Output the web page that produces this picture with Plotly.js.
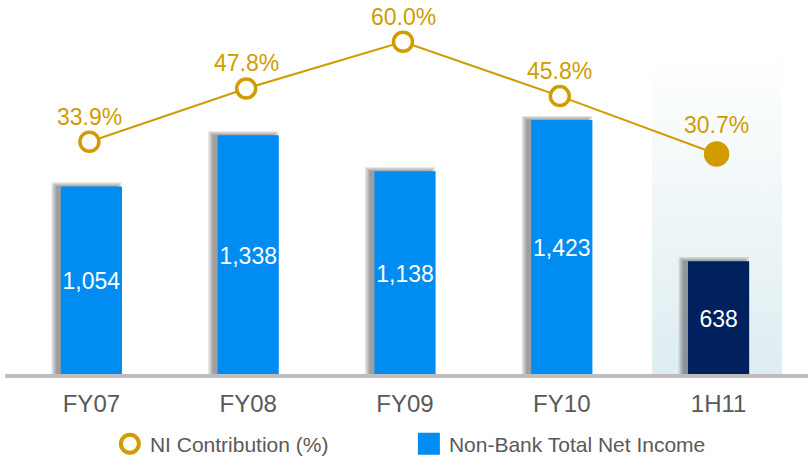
<!DOCTYPE html>
<html>
<head>
<meta charset="utf-8">
<script src="https://cdn.plot.ly/plotly-3.0.1.min.js"></script>
<style>
html,body{margin:0;padding:0;background:#fff;}
#chart{width:808px;height:456px;}
</style>
</head>
<body>
<div id="chart"></div>
<script>
// ---- data ----
var categories = ['FY07', 'FY08', 'FY09', 'FY10', '1H11'];
var netIncome = [1054, 1338, 1138, 1423, 638];
var niContribution = [33.9, 47.8, 60.0, 45.8, 30.7];
var barName = 'Non-Bank Total Net Income';
var lineName = 'NI Contribution (%)';

var GOLD = '#D09C00';
var BLUE = '#008CF0';
var NAVY = '#00205E';
var FONT = 'Liberation Sans, Arial, sans-serif';

// axis geometry
var PLOT_W = 784, PLOT_H = 376;
var CAT_PX = PLOT_W / 5;
var Y1 = [0, 2090];
var Y2 = [-27.26, 70.89];
var Y1_PER_PX = (Y1[1] - Y1[0]) / PLOT_H;
var LINE_DX = -2;            // px shift of line vs bars
var BAR_W = 0.39;

var lastIdx = categories.length - 1;
var barColors = categories.map(function (c, i) { return i === lastIdx ? NAVY : BLUE; });
var markerFill = categories.map(function (c, i) { return i === lastIdx ? GOLD : '#ffffff'; });
var markerSize = categories.map(function (c, i) { return i === lastIdx ? 22 : 19; });

var traces = [];

// bar shadows (layered, drawn first)
[0, 1.5, 3, 4.5].forEach(function (k) {
  var w = BAR_W + 2 * k / CAT_PX;
  traces.push({
    type: 'bar',
    x: categories,
    y: netIncome.map(function (v) { return v + (0.5 + 0.8 * k) * Y1_PER_PX; }),
    width: w,
    offset: -w / 2 - 5 / CAT_PX,
    marker: { color: 'rgba(0,0,0,0.11)', line: { width: 0 } },
    textposition: 'none',
    showlegend: false,
    hoverinfo: 'skip'
  });
});

traces.push({
  type: 'bar',
  name: barName,
  x: categories,
  y: netIncome,
  width: BAR_W,
  marker: { color: barColors, line: { width: 0 } },
  texttemplate: '%{y:,}',
  textposition: 'inside',
  insidetextanchor: 'middle',
  constraintext: 'none',
  textangle: 0,
  textfont: { family: FONT, size: 23, color: '#ffffff' },
  hoverinfo: 'skip',
  legendrank: 2
});

traces.push({
  type: 'scatter',
  mode: 'lines+markers',
  name: lineName,
  x: categories,
  y: niContribution,
  xaxis: 'x2',
  yaxis: 'y2',
  line: { color: GOLD, width: 2 },
  marker: { symbol: 'circle', size: markerSize, color: markerFill, opacity: 1, line: { color: GOLD, width: 3.5 } },
  cliponaxis: false,
  hoverinfo: 'skip',
  legendrank: 1
});

var lineLabels = categories.map(function (c, i) {
  return {
    xref: 'x2', yref: 'y2',
    x: c, y: niContribution[i],
    text: niContribution[i].toFixed(1) + '%',
    showarrow: false,
    yshift: i === lastIdx ? 29 : 25,
    font: { family: FONT, size: 23, color: GOLD }
  };
});

var gradSvg = "<svg xmlns='http://www.w3.org/2000/svg' width='10' height='100' viewBox='0 0 10 100' preserveAspectRatio='none'>" +
  "<defs><linearGradient id='g' x1='0' y1='0' x2='0' y2='1'>" +
  "<stop offset='0' stop-color='#ffffff'/><stop offset='1' stop-color='#deedf0'/></linearGradient></defs>" +
  "<rect width='10' height='100' fill='url(#g)'/></svg>";
var gradUri = 'data:image/svg+xml;charset=utf-8,' + encodeURIComponent(gradSvg);

var lineShift = -LINE_DX / CAT_PX;

var layout = {
  width: 808,
  height: 456,
  margin: { l: 13, r: 11, t: 0, b: 80, pad: 0 },
  paper_bgcolor: '#ffffff',
  plot_bgcolor: 'rgba(0,0,0,0)',
  font: { family: FONT, color: '#595959' },
  showlegend: true,
  barmode: 'overlay',
  xaxis: {
    type: 'category',
    range: [-0.5, 4.5],
    showgrid: false, zeroline: false, showline: false,
    ticks: '',
    ticklabelstandoff: 11,
    tickfont: { size: 24, color: '#595959' },
    fixedrange: true
  },
  xaxis2: { type: 'category', overlaying: 'x', range: [-0.5 + lineShift, 4.5 + lineShift], visible: false, fixedrange: true },
  yaxis: { range: Y1, visible: false, fixedrange: true },
  yaxis2: { range: Y2, overlaying: 'y', visible: false, fixedrange: true },
  legend: {
    orientation: 'h',
    xref: 'container', yref: 'container',
    x: 0.136, xanchor: 'left',
    y: 0.026, yanchor: 'middle',
    font: { size: 21, color: '#595959' },
    entrywidth: 254,
    entrywidthmode: 'pixels',
    bgcolor: 'rgba(0,0,0,0)',
    traceorder: 'normal'
  },
  annotations: lineLabels,
  images: [{
    source: gradUri,
    xref: 'x', yref: 'y',
    x: 3.576, y: 1812,
    sizex: 0.829, sizey: 1812,
    xanchor: 'left', yanchor: 'top',
    sizing: 'stretch',
    layer: 'below'
  }],
  shapes: [{
    type: 'line',
    xref: 'paper', yref: 'paper',
    x0: -0.01, x1: 1.02, y0: 0, y1: 0,
    line: { color: '#BDBDBD', width: 4 },
    layer: 'above'
  }]
};

function fixLegend(gd) {
  gd.querySelectorAll('.legend .traces').forEach(function (t) {
    var txt = t.querySelector('text.legendtext');
    var name = txt ? txt.textContent : '';
    if (name === barName) {
      t.querySelectorAll('.legendpoints path').forEach(function (p) {
        p.setAttribute('d', 'M11,11H-11V-11H11Z');
      });
    } else if (name === lineName) {
      t.querySelectorAll('.legendlines path').forEach(function (p) {
        p.style.display = 'none';
      });
      t.querySelectorAll('.legendpoints path').forEach(function (p) {
        p.setAttribute('d', 'M9,0A9,9 0 1,1 0,-9A9,9 0 0,1 9,0Z');
        p.style.strokeWidth = '4px';
        p.style.fill = '#ffffff';
        p.style.stroke = GOLD;
      });
    }
  });
}

Plotly.newPlot('chart', traces, layout, { displayModeBar: false, staticPlot: true }).then(function (gd) {
  fixLegend(gd);
  gd.on('plotly_afterplot', function () { fixLegend(gd); });
});
</script>
</body>
</html>
